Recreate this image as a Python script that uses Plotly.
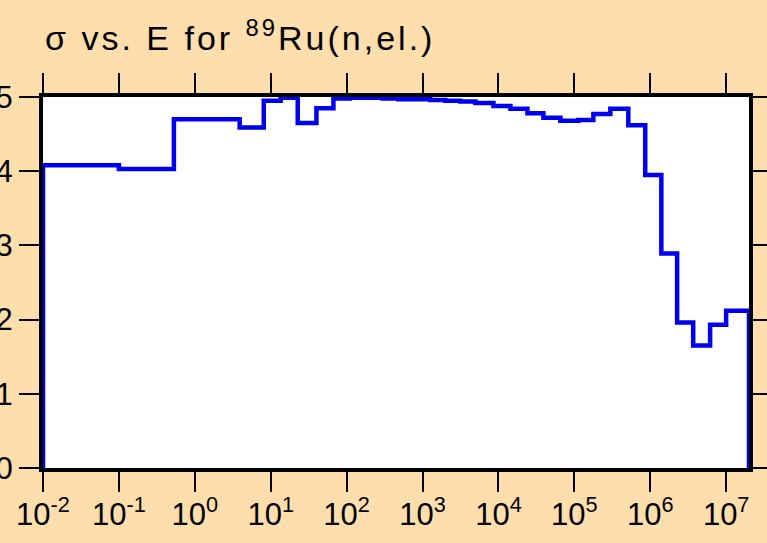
import numpy as np
import plotly.graph_objects as go

# Group boundaries (eV) and elastic cross section (b) per group
edges = [1e-2, 1e-1, 0.53, 3.9, 8.1, 13.5, 22.7, 40, 67, 110, 183, 298, 483, 785,
         1270, 2000, 3160, 4980, 8590, 1.44e4, 2.41e4, 3.91e4, 6.55e4, 1.13e5,
         1.78e5, 2.98e5, 5.14e5, 8.59e5, 1.40e6, 2.26e6, 3.68e6, 6.15e6, 1.0e7, 2.0e7]
sigma = [4.08, 4.03, 4.70, 4.59, 4.95, 4.99, 4.65, 4.85, 4.98, 4.99, 4.99, 4.98,
         4.97, 4.97, 4.96, 4.95, 4.94, 4.92, 4.88, 4.84, 4.78, 4.72, 4.68, 4.69,
         4.77, 4.84, 4.62, 3.95, 2.89, 1.96, 1.65, 1.93, 2.12]

x_ticks = [1e-2, 1e-1, 1e0, 1e1, 1e2, 1e3, 1e4, 1e5, 1e6, 1e7]
x_ticktext = ["10<sup>-2</sup>", "10<sup>-1</sup>", "10<sup>0</sup>", "10<sup>1</sup>",
              "10<sup>2</sup>", "10<sup>3</sup>", "10<sup>4</sup>", "10<sup>5</sup>",
              "10<sup>6</sup>", "10<sup>7</sup>"]
y_ticks = [0, 1, 2, 3, 4, 5]

# histogram outline: rise from zero at the first edge, drop to zero at the last
xs = [edges[0]] + edges[:-1] + [edges[-1]]
ys = [0] + sigma + [0]

fig = go.Figure(go.Scatter(x=xs, y=ys, mode="lines", line_shape="hv",
                           line=dict(color="#0000EE", width=4.5),
                           hoverinfo="skip", showlegend=False))

font = "Liberation Sans, Arial, sans-serif"
axis_common = dict(showline=True, linecolor="black", linewidth=4, mirror="ticks",
                   ticks="outside", ticklen=20, tickwidth=2, tickcolor="black",
                   showgrid=False, zeroline=False, layer="below traces",
                   automargin=False,
                   tickfont=dict(family=font, size=31, color="black"))

fig.update_xaxes(type="log", range=[-2, np.log10(2e7)], tickvals=x_ticks,
                 ticktext=x_ticktext, ticklabelstandoff=-4, **axis_common)
fig.update_yaxes(range=[0, 5], tickvals=y_ticks, **axis_common)

title_text = ('<span style="letter-spacing:3px">'
              'σ vs. E for <sup>89</sup>Ru(n,el.)</span>')

fig.update_layout(
    width=767, height=543,
    margin=dict(l=43, r=18, t=97, b=75),
    paper_bgcolor="#FFDEAD", plot_bgcolor="white",
    title=dict(text=title_text, xref="container",
               x=45 / 767, xanchor="left", yref="container", y=1 - 50 / 543,
               yanchor="bottom", font=dict(family=font, size=34, color="black")),
)

fig.write_html("out.html")
